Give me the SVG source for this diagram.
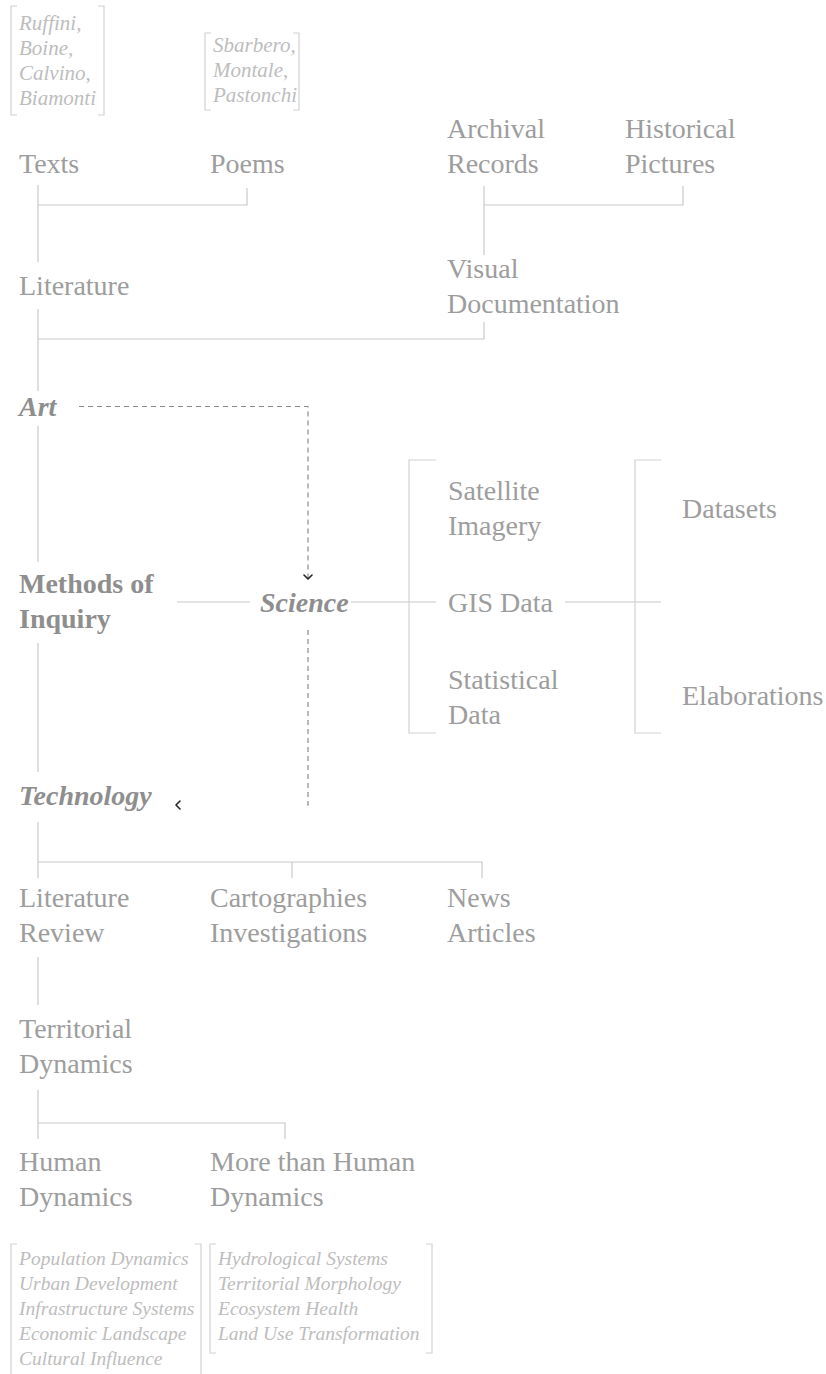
<svg xmlns="http://www.w3.org/2000/svg" width="826" height="1374" viewBox="0 0 826 1374">
<defs>
<style>
.t{font-family:"Liberation Serif","DejaVu Serif",serif;font-size:28px;fill:#9d9d9d}
.b{font-weight:bold;fill:#8e8e8e}
.bi{font-weight:bold;font-style:italic;fill:#8e8e8e}
.s{font-family:"Liberation Serif","DejaVu Serif",serif;font-style:italic;fill:#bdbdbd}
.ln{fill:none;stroke:#cacaca;stroke-width:1.2}
.br{fill:none;stroke:#d2d2d2;stroke-width:1.2}
.ds{fill:none;stroke:#8a8a8a;stroke-width:1.2;stroke-dasharray:5 4}
.ch{fill:none;stroke:#222;stroke-width:1.6;stroke-linecap:round;stroke-linejoin:round}
</style>
<marker id="chev" viewBox="0 0 10 10" refX="6" refY="5" markerWidth="10" markerHeight="10" markerUnits="userSpaceOnUse" orient="auto">
<path d="M2,1 L6,5 L2,9" class="ch"/>
</marker>
</defs>
<rect width="826" height="1374" fill="#fff"/>

<g id="connectors">
<path class="ln" d="M38 185 V262 M38 205 H247 V188"/>
<path class="ln" d="M38 309 V391 M38 339 H484 V322"/>
<path class="ln" d="M484 186 V255 M484 205 H683 V186"/>
<path class="ln" d="M38 426 V562"/>
<path class="ln" d="M38 643 V772"/>
<path class="ln" d="M177 602 H250"/>
<path class="ln" d="M351 602 H436"/>
<path class="ln" d="M565 602 H661"/>
<path class="ln" d="M38 822 V878 M38 862 H482 V878 M292 862 V878"/>
<path class="ln" d="M38 957 V1005"/>
<path class="ln" d="M38 1090 V1139 M38 1123 H285 V1139"/>
<path class="ds" d="M79 406.5 H308 V579" marker-end="url(#chev)"/>
<path class="ds" d="M308 630 V805 H304"/>
<path class="ch" d="M180 801 L176 805 L180 809"/>
</g>

<g id="brackets">
<path class="br" d="M17 6 H11 V115 H17 M98 6 H104 V115 H98"/>
<path class="br" d="M211 33 H205 V110 H211 M293 33 H299 V110 H293"/>
<path class="br" d="M436 460 H409 V733 H436"/>
<path class="br" d="M661 460 H635 V733 H661"/>
<path class="br" d="M17 1244 H11 V1376 M195 1244 H201 V1376"/>
<path class="br" d="M216 1244 H210 V1353 H216 M426 1244 H432 V1353 H426"/>
</g>

<g id="authors-texts">
<text class="s" font-size="21" x="19" y="30">Ruffini,</text>
<text class="s" font-size="21" x="19" y="55">Boine,</text>
<text class="s" font-size="21" x="19" y="80">Calvino,</text>
<text class="s" font-size="21" x="19" y="105">Biamonti</text>
</g>
<g id="authors-poems">
<text class="s" font-size="21" x="213" y="52">Sbarbero,</text>
<text class="s" font-size="21" x="213" y="77">Montale,</text>
<text class="s" font-size="21" x="213" y="102">Pastonchi</text>
</g>

<g id="texts"><text class="t" x="19" y="173">Texts</text></g>
<g id="poems"><text class="t" x="210" y="173">Poems</text></g>
<g id="archival"><text class="t" x="447" y="138">Archival</text><text class="t" x="447" y="173">Records</text></g>
<g id="historical"><text class="t" x="625" y="138">Historical</text><text class="t" x="625" y="173">Pictures</text></g>
<g id="literature"><text class="t" x="19" y="295">Literature</text></g>
<g id="visual"><text class="t" x="447" y="278">Visual</text><text class="t" x="447" y="313">Documentation</text></g>
<g id="art"><text class="t bi" x="19" y="416">Art</text></g>
<g id="methods"><text class="t b" x="19" y="593">Methods of</text><text class="t b" x="19" y="628">Inquiry</text></g>
<g id="science"><text class="t bi" x="260" y="612">Science</text></g>
<g id="satellite"><text class="t" x="448" y="500">Satellite</text><text class="t" x="448" y="535">Imagery</text></g>
<g id="gis"><text class="t" x="448" y="612">GIS Data</text></g>
<g id="statistical"><text class="t" x="448" y="689">Statistical</text><text class="t" x="448" y="724">Data</text></g>
<g id="datasets"><text class="t" x="682" y="518">Datasets</text></g>
<g id="elaborations"><text class="t" x="682" y="705">Elaborations</text></g>
<g id="technology"><text class="t bi" x="19" y="805">Technology</text></g>
<g id="litreview"><text class="t" x="19" y="907">Literature</text><text class="t" x="19" y="942">Review</text></g>
<g id="cartographies"><text class="t" x="210" y="907">Cartographies</text><text class="t" x="210" y="942">Investigations</text></g>
<g id="news"><text class="t" x="447" y="907">News</text><text class="t" x="447" y="942">Articles</text></g>
<g id="territorial"><text class="t" x="19" y="1038">Territorial</text><text class="t" x="19" y="1073">Dynamics</text></g>
<g id="human"><text class="t" x="19" y="1171">Human</text><text class="t" x="19" y="1206">Dynamics</text></g>
<g id="morehuman"><text class="t" x="210" y="1171">More than Human</text><text class="t" x="210" y="1206">Dynamics</text></g>

<g id="human-topics">
<text class="s" font-size="19.5" x="19" y="1265">Population Dynamics</text>
<text class="s" font-size="19.5" x="19" y="1290">Urban Development</text>
<text class="s" font-size="19.5" x="19" y="1315">Infrastructure Systems</text>
<text class="s" font-size="19.5" x="19" y="1340">Economic Landscape</text>
<text class="s" font-size="19.5" x="19" y="1365">Cultural Influence</text>
</g>
<g id="morehuman-topics">
<text class="s" font-size="19.5" x="218" y="1265">Hydrological Systems</text>
<text class="s" font-size="19.5" x="218" y="1290">Territorial Morphology</text>
<text class="s" font-size="19.5" x="218" y="1315">Ecosystem Health</text>
<text class="s" font-size="19.5" x="218" y="1340">Land Use Transformation</text>
</g>
</svg>
